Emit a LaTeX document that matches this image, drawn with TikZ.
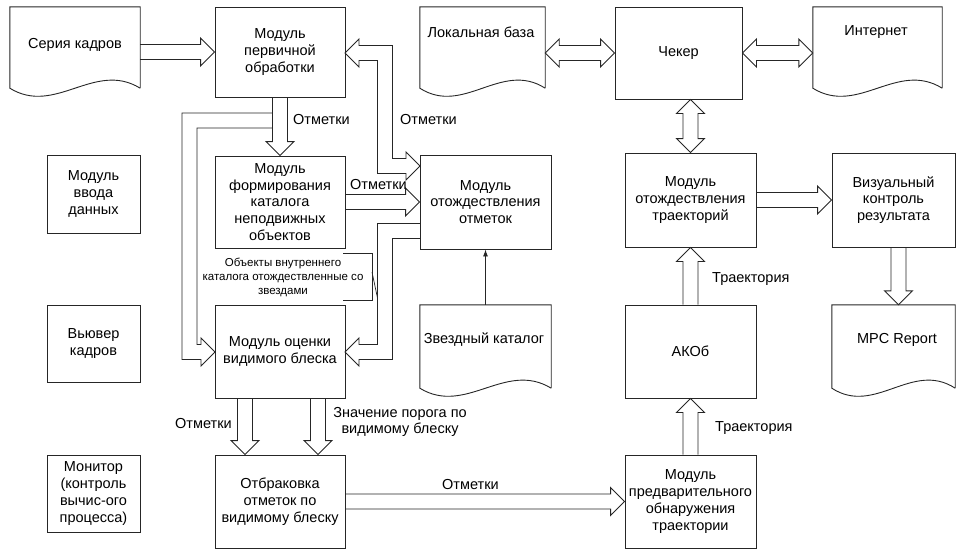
\documentclass[tikz,border=0pt]{standalone}
\usepackage{fontspec}
\setmainfont{Liberation Sans}
\usetikzlibrary{calc,arrows.meta}
\tikzset{
 ln/.style={line width=0.9pt, draw=black!85},
 box/.style={ln, draw, rectangle, align=center, inner sep=1pt, font=\fontsize{14.5}{16.8}\selectfont},
 docbox/.style={rectangle, inner sep=0pt},
 lbl/.style={font=\fontsize{14.5}{16.8}\selectfont, inner sep=0pt, align=center},
 small/.style={font=\fontsize{11.5}{14}\selectfont, inner sep=0pt, align=center},
 blk/.style={ln, line join=miter},
}
\newcommand\harr[3]{\draw[blk] let \p1=#1,\p2=#2 in (\x1,\y1+7.5pt) -- ({\x2-#3*14pt},\y1+7.5pt) -- ({\x2-#3*14pt},\y1+14pt) -- (\x2,\y1) -- ({\x2-#3*14pt},\y1-14pt) -- ({\x2-#3*14pt},\y1-7.5pt) -- (\x1,\y1-7.5pt);}
\newcommand\hdarr[2]{\draw[blk] let \p1=#1,\p2=#2 in (\x1,\y1) -- (\x1+14pt,\y1+14pt) -- (\x1+14pt,\y1+7.5pt) -- (\x2-14pt,\y1+7.5pt) -- (\x2-14pt,\y1+14pt) -- (\x2,\y1) -- (\x2-14pt,\y1-14pt) -- (\x2-14pt,\y1-7.5pt) -- (\x1+14pt,\y1-7.5pt) -- (\x1+14pt,\y1-14pt) -- cycle;}
\newcommand\varr[3]{\draw[blk] let \p1=#1,\p2=#2 in (\x1-7.5pt,\y1) -- (\x1-7.5pt,{\y2+#3*14pt}) -- (\x1-14pt,{\y2+#3*14pt}) -- (\x1,\y2) -- (\x1+14pt,{\y2+#3*14pt}) -- (\x1+7.5pt,{\y2+#3*14pt}) -- (\x1+7.5pt,\y1);}
\newcommand\vdarr[2]{\draw[blk] let \p1=#1,\p2=#2 in (\x1,\y1) -- (\x1-14pt,\y1-14pt) -- (\x1-7.5pt,\y1-14pt) -- (\x1-7.5pt,\y2+14pt) -- (\x1-14pt,\y2+14pt) -- (\x1,\y2) -- (\x1+14pt,\y2+14pt) -- (\x1+7.5pt,\y2+14pt) -- (\x1+7.5pt,\y1-14pt) -- (\x1+14pt,\y1-14pt) -- cycle;}
\newcommand\docline[1]{\draw[ln] (#1.south east) -- (#1.north east) -- (#1.north west) -- (#1.south west) .. controls ($(#1.south west)!0.35!(#1.south east)+(0,28)$) and ($(#1.south west)!0.65!(#1.south east)+(0,-28)$) .. (#1.south east);}
\begin{document}
\begin{tikzpicture}[x=1pt,y=-1pt]
\useasboundingbox (0,0) rectangle (957,549);
% boxes
\node[box, minimum width=130, minimum height=90] (prim) at (280,52) {Модуль\\первичной\\обработки};
\node[box, minimum width=130, minimum height=92] (kat) at (280,202) {Модуль\\формирования\\каталога\\неподвижных\\объектов};
\node[box, minimum width=130, minimum height=93] (ots) at (280,351.5) {Модуль оценки\\видимого блеска};
\node[box, minimum width=130, minimum height=93] (otb) at (280,501.5) {Отбраковка\\отметок по\\видимому блеску};
\node[box, minimum width=93, minimum height=78] (vvod) at (93.5,194) {Модуль\\ввода\\данных};
\node[box, minimum width=93, minimum height=77] (vuv) at (93.5,343.5) {Вьювер\\кадров};
\node[box, minimum width=93, minimum height=77] (mon) at (93.5,493.5) {Монитор\\(контроль\\вычис-ого\\процесса)};
\node[box, minimum width=131, minimum height=94] (otm) at (485.5,202) {Модуль\\отождествления\\отметок};
\node[box, minimum width=127, minimum height=92] (chek) at (678.5,53) {Чекер};
\node[box, minimum width=131, minimum height=94] (otr) at (690.5,200) {Модуль\\отождествления\\траекторий};
\node[box, minimum width=123, minimum height=94] (viz) at (893.5,200) {Визуальный\\контроль\\результата};
\node[box, minimum width=131, minimum height=93] (akob) at (690.5,351.5) {АКОб};
\node[box, minimum width=131, minimum height=93] (pred) at (690.5,501.5) {Модуль\\предварительного\\обнаружения\\траектории};
% documents
\node[docbox, minimum width=130, minimum height=81] (ser) at (75,47.5) {};
\node[docbox, minimum width=125, minimum height=81] (lb) at (482.5,47.5) {};
\node[docbox, minimum width=129, minimum height=81] (inet) at (877.5,47.5) {};
\node[docbox, minimum width=131, minimum height=83] (zk) at (485.5,346.5) {};
\node[docbox, minimum width=123, minimum height=83] (mpc) at (893.5,346.5) {};
\docline{ser}\docline{lb}\docline{inet}\docline{zk}\docline{mpc}
\node[lbl] (ser-t) at (75,45) {Серия кадров};
\node[lbl] (lb-t) at (481,32) {Локальная база};
\node[lbl] (inet-t) at (876,32) {Интернет};
\node[lbl] (zk-t) at (484,340) {Звездный каталог};
\node[lbl] (mpc-t) at (897,340) {MPC Report};
% straight block arrows
\harr{(ser.east |- prim.west)}{(prim.west)}{1}
\hdarr{(lb.east |- chek.west)}{(chek.west)}
\hdarr{(chek.east)}{(inet.west |- chek.east)}
\varr{(prim.south)}{(kat.north)}{1}
\harr{(kat.east)}{(otm.west |- kat.east)}{1}
\varr{([xshift=-35pt]ots.south)}{([xshift=-35pt]otb.north)}{1}
\varr{([xshift=38pt]ots.south)}{([xshift=38pt]otb.north)}{1}
\harr{(otb.east)}{(pred.west |- otb.east)}{1}
\varr{(pred.north)}{(akob.south)}{-1}
\varr{(akob.north)}{(otr.south)}{-1}
\vdarr{(otr.north |- chek.south)}{(otr.north)}
\harr{(otr.east)}{(viz.west |- otr.east)}{1}
\varr{([xshift=5pt]viz.south)}{([xshift=5pt]mpc.north)}{1}
% bent block arrows
\draw[blk] (345,53) -- (359,39) -- (359,45.5) -- (392.5,45.5) -- (392.5,158.5) -- (406,158.5) -- (406,152) -- (420,166) -- (406,180) -- (406,173.5) -- (377.5,173.5) -- (377.5,60.5) -- (359,60.5) -- (359,67) -- cycle;
\draw[blk] (420,223.5) -- (377.5,223.5) -- (377.5,344.5) -- (359,344.5) -- (359,338) -- (345,352) -- (359,366) -- (359,359.5) -- (392.5,359.5) -- (392.5,238.5) -- (420,238.5);
\draw[blk] (272.5,113) -- (182,113) -- (182,359.5) -- (201,359.5) -- (201,366) -- (215,352) -- (201,338) -- (201,344.5) -- (197,344.5) -- (197,128) -- (272.5,128);
% thin arrow
\draw[ln, -{Latex[length=7pt,width=5pt]}] (zk.north) -- (otm.south);
% callout
\draw[ln, line width=0.7pt] (343,253) -- (372,253) -- (372,300) -- (343,300);
\draw[ln, line width=0.7pt] (372,272) -- (377.5,298);
\node[small] (c1) at (283,277) {Объекты внутреннего\\каталога отождествленные со\\звездами};
% labels
\node[lbl, anchor=west] (l1) at (293,120) {Отметки};
\node[lbl, anchor=west] (l2) at (400,120) {Отметки};
\node[lbl, anchor=west] (l3) at (350,185) {Отметки};
\node[lbl, anchor=west] (l4) at (175,423) {Отметки};
\node[lbl] (l5) at (400,422) {Значение порога по\\видимому блеску};
\node[lbl, anchor=west] (l6) at (442,484) {Отметки};
\node[lbl, anchor=west] (l7) at (712,279) {Траектория};
\node[lbl, anchor=west] (l8) at (715,428) {Траектория};
\end{tikzpicture}
\end{document}
